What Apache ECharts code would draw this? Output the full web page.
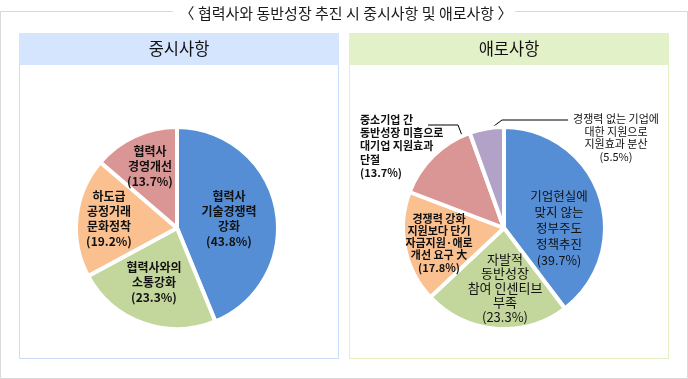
<!DOCTYPE html>
<html><head><meta charset="utf-8">
<script src="https://cdn.jsdelivr.net/npm/echarts@6/dist/echarts.min.js"></script>
<style>html,body{margin:0;padding:0;background:#fff}#c{width:688px;height:379px}</style>
</head><body><div id="c"></div>
<script>
// ---------- data ----------
const chartTitle = '〈 협력사와 동반성장 추진 시 중시사항 및 애로사항 〉';
const leftTitle = '중시사항';
const rightTitle = '애로사항';
const leftCategories = ['협력사\n기술경쟁력\n강화', '협력사와의\n소통강화', '하도급\n공정거래\n문화정착', '협력사\n경영개선'];
const leftValues = [43.8, 23.3, 19.2, 13.7];
const rightCategories = ['기업현실에\n맞지 않는\n정부주도\n정책추진', '자발적\n동반성장\n참여 인센티브\n부족', '경쟁력 강화\n지원보다 단기\n자금지원·애로\n개선 요구 大', '중소기업 간\n동반성장 미흡으로\n대기업 지원효과\n단절', '경쟁력 없는 기업에\n대한 지원으로\n지원효과 분산'];
const rightValues = [39.7, 23.3, 17.8, 13.7, 5.5];

// ---------- styles / layout ----------
const FONT = '"Noto Sans CJK KR", "Noto Sans", sans-serif';
const leftColors = ['#558ed5', '#c3d69b', '#fac090', '#d99694'];
const rightColors = ['#558ed5', '#c3d69b', '#fac090', '#d99694', '#b3a2c7'];
const pies = [{cx: 177, cy: 228, r: 101}, {cx: 504, cy: 228, r: 101}];

// label placement relative to pie centre (px)
const labelPlace = [
  [{dx: 52, dy: -9}, {dx: -23, dy: 54}, {dx: -68, dy: -9}, {dx: -27, dy: -62}],
  [{dx: 55, dy: 0}, {dx: 1, dy: 60}, {dx: -65, dy: 15},
   {dx: -144, dy: -115, align: 'left', line: {frac: 0.9, rad: 0.92, p1: [-46, -103], p2: [-76, -103]}},
   {dx: 112, dy: -115, align: 'center', line: {frac: 0.42, rad: 0.96, p1: [-2, -108], p2: [64, -108]}}]
];
const leftLabelStyles = leftValues.map(() => ({fontSize: 12, fontWeight: 'bold', lineHeight: 15}));
const rightLabelStyles = [
  {fontSize: 12.5, fontWeight: 'normal', lineHeight: 16},
  {fontSize: 13, fontWeight: 'normal', lineHeight: 14.5},
  {fontSize: 11, fontWeight: 'bold', lineHeight: 12.3},
  {fontSize: 11, fontWeight: 'bold', lineHeight: 13.3, position: 'outside'},
  {fontSize: 11, fontWeight: 'normal', lineHeight: 12.5, position: 'outside'}
];

function buildData(names, values, colors, lstyles) {
  return names.map((n, i) => {
    const ls = lstyles[i];
    const outside = ls.position === 'outside';
    return {
      name: n, value: values[i],
      itemStyle: {color: colors[i]},
      label: Object.assign({position: outside ? 'outside' : 'inside'}, ls),
      labelLine: {show: outside, lineStyle: {color: '#000', width: 1}}
    };
  });
}

function sliceAngle(values, idx, frac) {
  const total = values.reduce((a, b) => a + b, 0);
  let start = 0;
  for (let i = 0; i < idx; i++) start += values[i];
  return (start + values[idx] * frac) / total * Math.PI * 2;
}

function makeLayout(si, values) {
  return function (p) {
    const P = pies[si];
    const L = labelPlace[si][p.dataIndex];
    if (!L.line) {
      return {x: P.cx + L.dx, y: P.cy + L.dy, align: 'center', verticalAlign: 'middle'};
    }
    const a = sliceAngle(values, p.dataIndex, L.line.frac);
    const d = L.line.rad * P.r;
    const pt0 = [P.cx + d * Math.sin(a), P.cy - d * Math.cos(a)];
    return {
      x: P.cx + L.dx, y: P.cy + L.dy, align: L.align, verticalAlign: 'top',
      labelLinePoints: [pt0, [P.cx + L.line.p1[0], P.cy + L.line.p1[1]], [P.cx + L.line.p2[0], P.cy + L.line.p2[1]]]
    };
  };
}

function pieSeries(si, names, values, colors, lstyles) {
  return {
    type: 'pie', center: [pies[si].cx, pies[si].cy], radius: [0, pies[si].r],
    startAngle: 90, clockwise: true, avoidLabelOverlap: false,
    silent: true, animation: false,
    itemStyle: {borderColor: '#fff', borderWidth: 4},
    label: {show: true, formatter: '{b}\n({c}%)', color: '#111', fontFamily: FONT},
    labelLine: {show: false},
    labelLayout: makeLayout(si, values),
    data: buildData(names, values, colors, lstyles)
  };
}

const chart = echarts.init(document.getElementById('c'), null, {renderer: 'canvas'});
chart.setOption({
  backgroundColor: '#fff',
  animation: false,
  graphic: [
    {type: 'polyline', shape: {points: [[173, 11.5], [0.5, 11.5], [0.5, 378.5], [687.5, 378.5], [687.5, 11.5], [515, 11.5]]},
     style: {stroke: '#d9d9d9', fill: null, lineWidth: 1}},
    {type: 'text', x: 346, y: 13, style: {text: chartTitle, fill: '#1a1a1a', font: '15px ' + FONT, align: 'center', verticalAlign: 'middle'}},
    {type: 'rect', shape: {x: 19.5, y: 33.5, width: 319, height: 325}, style: {stroke: '#c9ddf9', fill: '#fff', lineWidth: 1}},
    {type: 'rect', shape: {x: 19, y: 33, width: 320, height: 32}, style: {fill: '#d4e5fd'}},
    {type: 'text', x: 179, y: 49, style: {text: leftTitle, fill: '#111', font: '16.5px ' + FONT, align: 'center', verticalAlign: 'middle'}},
    {type: 'rect', shape: {x: 349.5, y: 33.5, width: 319, height: 325}, style: {stroke: '#e2efc4', fill: '#fff', lineWidth: 1}},
    {type: 'rect', shape: {x: 349, y: 33, width: 320, height: 32}, style: {fill: '#e3f1c9'}},
    {type: 'text', x: 509, y: 49, style: {text: rightTitle, fill: '#111', font: '16.5px ' + FONT, align: 'center', verticalAlign: 'middle'}}
  ],
  series: [
    pieSeries(0, leftCategories, leftValues, leftColors, leftLabelStyles),
    pieSeries(1, rightCategories, rightValues, rightColors, rightLabelStyles)
  ]
});
</script>
</body></html>
